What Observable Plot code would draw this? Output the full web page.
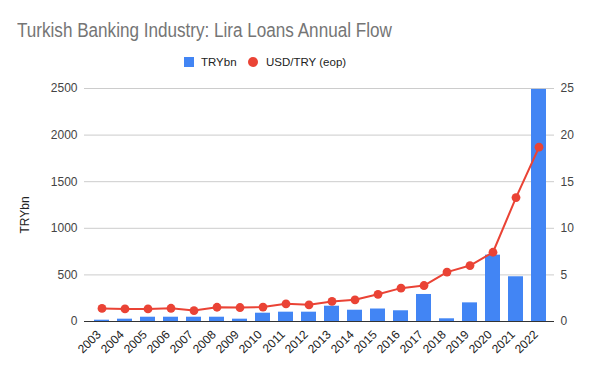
<!DOCTYPE html>
<html><head><meta charset="utf-8">
<script src="https://cdn.jsdelivr.net/npm/d3@7"></script>
<script src="https://cdn.jsdelivr.net/npm/@observablehq/plot@0.6"></script>
<style>
body{margin:0;background:#fff;font-family:"Liberation Sans", Arial, sans-serif;}
#wrap{position:relative;width:600px;height:371px;overflow:hidden;}
#title{position:absolute;left:17px;top:19px;font-size:20px;line-height:23px;color:#757575;white-space:nowrap;transform:scaleX(0.855);transform-origin:0 0;}
.lg{position:absolute;font-size:11.5px;line-height:14px;color:#222;white-space:nowrap;}
.sw{position:absolute;}
#ylab{position:absolute;left:25px;top:215px;font-size:12px;line-height:14px;color:#222;transform:translate(-50%,-50%) rotate(-90deg);white-space:nowrap;}
#chart{position:absolute;left:0;top:0;}
</style></head>
<body><div id="wrap">
<div id="chart"></div>
<div id="title">Turkish Banking Industry: Lira Loans Annual Flow</div>
<i class="sw" style="left:184px;top:57px;width:10px;height:10px;background:#4285F4"></i>
<div class="lg" style="left:201px;top:55px">TRYbn</div>
<i class="sw" style="left:248px;top:57px;width:10px;height:10px;border-radius:50%;background:#EA4335"></i>
<div class="lg" style="left:266px;top:55px">USD/TRY (eop)</div>
<div id="ylab">TRYbn</div>
</div>
<script>
const years = ["2003","2004","2005","2006","2007","2008","2009","2010","2011","2012","2013","2014","2015","2016","2017","2018","2019","2020","2021","2022"];
const tryBn = [14,25,46,46,46,46,25,89,100,100,164,121,134,115,290,29,200,712,480,2490];
const usdTry = [1.4,1.35,1.35,1.42,1.17,1.53,1.5,1.55,1.9,1.79,2.15,2.33,2.92,3.58,3.86,5.3,6.0,7.43,13.3,18.7];
const leftTicks = [0,500,1000,1500,2000,2500];
const rightTicks = [0,5,10,15,20,25];

const data = years.map((y,i)=>({year:y, v:tryBn[i], fx:usdTry[i]}));
const k = 100; // right axis (0–25) mapped onto the left scale (0–2500)

const chart = Plot.plot({
  width:600, height:371,
  marginTop:88, marginBottom:50, marginLeft:89, marginRight:49,
  style:{fontFamily:"'Liberation Sans', Arial, sans-serif", fontSize:"12px", color:"#444", background:"transparent"},
  x:{type:"band", domain:years, paddingInner:0.35, paddingOuter:0.175, label:null},
  y:{domain:[0,2500], label:null},
  marks:[
    Plot.ruleY(leftTicks.slice(1), {stroke:"#cccccc", strokeWidth:1, insetLeft:-5, insetRight:-3}),
    Plot.axisY(leftTicks, {anchor:"left", tickSize:0, tickPadding:12, tickFormat:d=>String(d), fill:"#444", label:null}),
    Plot.axisY(rightTicks.map(d=>d*k), {anchor:"right", tickSize:0, tickPadding:9, tickFormat:d=>String(d/k), fill:"#444", label:null}),
    Plot.barY(data, {x:"year", y:"v", fill:"#4285F4"}),
    Plot.ruleY([0], {stroke:"#333", insetLeft:-5, insetRight:-3}),
    Plot.axisX(years, {tickRotate:-45, tickSize:0, tickPadding:6, dx:-3, dy:5, fill:"#222", fontSize:12, label:null}),
    Plot.line(data, {x:"year", y:d=>d.fx*k, stroke:"#EA4335", strokeWidth:2}),
    Plot.dot(data, {x:"year", y:d=>d.fx*k, fill:"#EA4335", r:4.4})
  ]
});
document.getElementById("chart").appendChild(chart);
</script></body></html>
